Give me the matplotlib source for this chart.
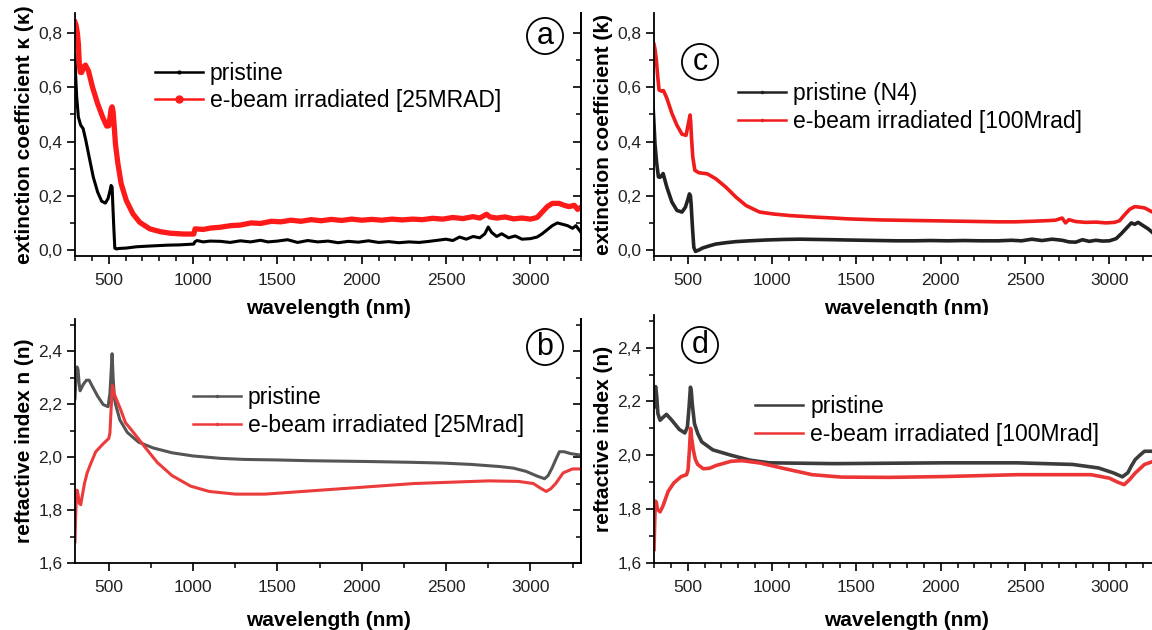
import numpy as np
import matplotlib.pyplot as plt
from matplotlib.ticker import MultipleLocator, FuncFormatter

plt.rcParams['font.family'] = ['Liberation Sans', 'DejaVu Sans']

# (wavelength nm, value)
a_pristine = [(300, 0.72), (304, 0.64), (310, 0.565), (320, 0.49), (334, 0.46), (348, 0.448), (364, 0.405),
              (384, 0.343), (408, 0.27), (434, 0.214), (458, 0.18), (480, 0.173), (496, 0.19), (506, 0.215),
              (514, 0.238), (520, 0.232), (524, 0.17), (530, 0.084), (536, 0.007), (545, 0.004), (564, 0.006),
              (600, 0.007), (664, 0.012), (720, 0.014), (784, 0.016), (850, 0.018), (920, 0.019), (1004, 0.022),
              (1010, 0.03), (1024, 0.035), (1060, 0.03), (1100, 0.033), (1164, 0.032), (1220, 0.028),
              (1280, 0.034), (1340, 0.03), (1400, 0.036), (1444, 0.03), (1500, 0.033), (1560, 0.038),
              (1620, 0.028), (1680, 0.035), (1740, 0.03), (1800, 0.033), (1860, 0.027), (1920, 0.032),
              (1980, 0.029), (2040, 0.034), (2100, 0.028), (2160, 0.031), (2220, 0.027), (2280, 0.03),
              (2340, 0.028), (2400, 0.032), (2450, 0.036), (2500, 0.04), (2540, 0.035), (2580, 0.048),
              (2620, 0.04), (2660, 0.05), (2700, 0.045), (2730, 0.06), (2750, 0.085), (2770, 0.065),
              (2800, 0.05), (2830, 0.06), (2870, 0.045), (2910, 0.052), (2950, 0.04), (3000, 0.042),
              (3040, 0.048), (3070, 0.06), (3100, 0.075), (3130, 0.09), (3160, 0.1), (3190, 0.095),
              (3220, 0.09), (3250, 0.08), (3270, 0.09), (3300, 0.065)]
a_irradiated = [(300, 0.84), (306, 0.83), (314, 0.80), (320, 0.76), (326, 0.68), (332, 0.655), (340, 0.655),
                (350, 0.675), (362, 0.682), (380, 0.66), (404, 0.60), (434, 0.54), (464, 0.49), (488, 0.457),
                (500, 0.458), (508, 0.49), (514, 0.52), (520, 0.528), (526, 0.51), (532, 0.46), (540, 0.39),
                (554, 0.32), (574, 0.244), (604, 0.183), (644, 0.133), (684, 0.102), (744, 0.078), (804, 0.068),
                (864, 0.062), (944, 0.059), (1004, 0.059), (1012, 0.078), (1060, 0.076), (1104, 0.081),
                (1160, 0.084), (1224, 0.09), (1280, 0.092), (1344, 0.10), (1400, 0.098), (1464, 0.106),
                (1520, 0.104), (1580, 0.11), (1640, 0.106), (1700, 0.112), (1760, 0.108), (1820, 0.113),
                (1880, 0.109), (1940, 0.114), (2000, 0.11), (2060, 0.113), (2120, 0.11), (2180, 0.114),
                (2240, 0.111), (2300, 0.114), (2360, 0.112), (2420, 0.117), (2480, 0.114), (2540, 0.12),
                (2600, 0.116), (2660, 0.123), (2700, 0.118), (2740, 0.132), (2760, 0.122), (2800, 0.118),
                (2850, 0.122), (2900, 0.115), (2950, 0.118), (3000, 0.114), (3040, 0.12), (3070, 0.14),
                (3100, 0.16), (3130, 0.172), (3170, 0.172), (3200, 0.165), (3230, 0.16), (3260, 0.165),
                (3280, 0.15), (3300, 0.158)]

c_pristine = [(292, 0.553), (298, 0.49), (306, 0.39), (316, 0.32), (326, 0.27), (334, 0.268), (342, 0.272),
              (354, 0.282), (366, 0.255), (376, 0.232), (406, 0.177), (436, 0.146), (466, 0.14), (486, 0.158),
              (500, 0.185), (510, 0.207), (516, 0.2), (520, 0.17), (528, 0.084), (536, 0.01), (546, -0.005),
              (566, 0.0), (586, 0.007), (626, 0.015), (666, 0.022), (726, 0.027), (786, 0.031), (866, 0.034),
              (966, 0.037), (1066, 0.039), (1166, 0.04), (1266, 0.039), (1366, 0.038), (1446, 0.037),
              (1540, 0.036), (1640, 0.035), (1740, 0.034), (1840, 0.034), (1940, 0.035), (2040, 0.034),
              (2140, 0.035), (2240, 0.034), (2340, 0.034), (2420, 0.036), (2480, 0.034), (2540, 0.04),
              (2600, 0.035), (2660, 0.04), (2720, 0.036), (2760, 0.03), (2800, 0.029), (2840, 0.038),
              (2880, 0.032), (2920, 0.036), (2960, 0.033), (3000, 0.034), (3040, 0.042), (3070, 0.06),
              (3100, 0.08), (3130, 0.1), (3150, 0.095), (3170, 0.102), (3200, 0.09), (3230, 0.078),
              (3260, 0.062), (3300, 0.045)]
c_irradiated = [(292, 0.77), (300, 0.76), (306, 0.74), (314, 0.70), (322, 0.64), (330, 0.59), (344, 0.586),
                (356, 0.588), (376, 0.56), (406, 0.504), (436, 0.46), (466, 0.427), (490, 0.423), (506, 0.473),
                (514, 0.498), (518, 0.47), (522, 0.417), (530, 0.343), (542, 0.294), (566, 0.285), (616, 0.281),
                (666, 0.263), (726, 0.232), (786, 0.195), (846, 0.164), (926, 0.14), (1006, 0.133),
                (1106, 0.127), (1186, 0.124), (1266, 0.121), (1366, 0.118), (1446, 0.115), (1540, 0.113),
                (1640, 0.111), (1740, 0.11), (1840, 0.109), (1940, 0.108), (2040, 0.107), (2140, 0.106),
                (2240, 0.105), (2340, 0.104), (2440, 0.104), (2540, 0.106), (2620, 0.108), (2680, 0.11),
                (2720, 0.118), (2740, 0.1), (2760, 0.112), (2800, 0.105), (2860, 0.102), (2920, 0.103),
                (2980, 0.1), (3030, 0.102), (3060, 0.108), (3090, 0.13), (3120, 0.15), (3150, 0.16),
                (3180, 0.158), (3210, 0.155), (3240, 0.145), (3270, 0.135), (3300, 0.125)]

b_pristine = [(300, 2.22), (306, 2.30), (312, 2.34), (318, 2.33), (324, 2.28), (330, 2.25), (338, 2.26),
              (350, 2.275), (368, 2.29), (384, 2.29), (400, 2.27), (434, 2.23), (467, 2.198), (496, 2.19),
              (507, 2.24), (514, 2.32), (520, 2.39), (526, 2.30), (534, 2.22), (540, 2.20), (566, 2.14),
              (610, 2.093), (677, 2.056), (765, 2.034), (875, 2.016), (1000, 2.004), (1163, 1.995),
              (1300, 1.991), (1494, 1.989), (1700, 1.986), (2046, 1.983), (2300, 1.98), (2488, 1.977),
              (2650, 1.972), (2819, 1.964), (2900, 1.958), (2974, 1.946), (3040, 1.928), (3084, 1.918),
              (3105, 1.93), (3128, 1.958), (3150, 1.99), (3172, 2.02), (3200, 2.02), (3238, 2.013),
              (3300, 2.007)]
b_irradiated = [(300, 1.68), (303, 1.76), (307, 1.83), (312, 1.875), (318, 1.86), (326, 1.825), (334, 1.82),
                (345, 1.86), (356, 1.90), (372, 1.94), (390, 1.97), (423, 2.02), (467, 2.05), (500, 2.07),
                (507, 2.09), (514, 2.18), (522, 2.27), (532, 2.24), (544, 2.22), (570, 2.18), (599, 2.13),
                (650, 2.09), (699, 2.05), (787, 1.98), (875, 1.93), (986, 1.89), (1096, 1.87), (1251, 1.86),
                (1427, 1.86), (1648, 1.87), (1869, 1.88), (2090, 1.89), (2311, 1.90), (2531, 1.905),
                (2752, 1.91), (2929, 1.908), (3017, 1.90), (3061, 1.882), (3094, 1.87), (3120, 1.88),
                (3150, 1.9), (3194, 1.94), (3249, 1.955), (3300, 1.955)]

d_pristine = [(300, 2.18), (304, 2.24), (310, 2.255), (316, 2.22), (323, 2.155), (336, 2.13), (352, 2.14),
              (374, 2.152), (406, 2.13), (450, 2.096), (483, 2.083), (498, 2.105), (508, 2.18), (516, 2.253),
              (521, 2.24), (527, 2.19), (540, 2.117), (560, 2.08), (583, 2.05), (649, 2.02), (758, 2.0),
              (868, 1.982), (984, 1.972), (1365, 1.969), (2019, 1.972), (2455, 1.972), (2782, 1.966),
              (2935, 1.953), (3022, 1.935), (3077, 1.92), (3109, 1.935), (3130, 1.96), (3153, 1.984),
              (3180, 2.0), (3208, 2.015), (3300, 2.015)]
d_irradiated = [(300, 1.65), (304, 1.75), (308, 1.83), (314, 1.825), (320, 1.80), (336, 1.79), (352, 1.81),
                (384, 1.866), (417, 1.897), (461, 1.921), (493, 1.928), (502, 1.946), (510, 2.02), (517, 2.10),
                (524, 2.06), (533, 2.02), (545, 1.985), (559, 1.966), (592, 1.95), (630, 1.952), (668, 1.962),
                (758, 1.978), (823, 1.98), (932, 1.971), (1063, 1.952), (1237, 1.928), (1411, 1.919),
                (1692, 1.918), (2019, 1.921), (2455, 1.928), (2891, 1.928), (3000, 1.915), (3050, 1.9),
                (3088, 1.891), (3120, 1.91), (3153, 1.934), (3208, 1.966), (3258, 1.977), (3300, 1.977)]

W, H = 1152, 630
fig = plt.figure(figsize=(W / 100, H / 100), dpi=100)


def px_axes(left, top, right, bottom):
    return fig.add_axes([left / W, (H - bottom) / H, (right - left) / W, (bottom - top) / H])


comma = FuncFormatter(lambda v, p: ('%.1f' % v).replace('.', ','))


def style(ax, ylim, ymaj, xminor, ylabel, right_spine=True, xlabelpad=9):
    ax.set_xlim(300, 3300)
    ax.set_ylim(*ylim)
    ax.xaxis.set_major_locator(MultipleLocator(500))
    ax.xaxis.set_minor_locator(MultipleLocator(xminor))
    ax.yaxis.set_major_locator(MultipleLocator(ymaj))
    ax.yaxis.set_minor_locator(MultipleLocator(ymaj / 2))
    ax.yaxis.set_major_formatter(comma)
    ax.spines['top'].set_visible(False)
    ax.spines['right'].set_visible(right_spine)
    for s in ax.spines.values():
        s.set_linewidth(1.3)
    ax.tick_params(which='major', direction='out', length=6, width=1.2, labelsize=12.5, pad=3,
                   labelcolor='#222222')
    ax.tick_params(axis='x', which='major', pad=6)
    ax.tick_params(which='minor', direction='out', length=3.5, width=1.1)
    if right_spine:
        sec = ax.secondary_yaxis('right')
        sec.yaxis.set_major_locator(MultipleLocator(ymaj))
        sec.yaxis.set_minor_locator(MultipleLocator(ymaj / 2))
        sec.tick_params(which='major', direction='in', length=6, width=1.2, labelright=False)
        sec.tick_params(which='minor', direction='in', length=3.5, width=1.1)
        sec.spines['right'].set_linewidth(1.3)
    ax.set_xlabel('wavelength (nm)', fontsize=15, fontweight='bold', labelpad=xlabelpad)
    ax.set_ylabel(ylabel, fontsize=15, fontweight='bold', labelpad=3)


def tag(ax, x, y, letter):
    fig.text(x / W, 1 - y / H, letter, fontsize=22, ha='center', va='center',
             bbox=dict(boxstyle='circle,pad=0.1', fc='white', ec='black', lw=1.3))


def draw(ax, data, color, lw, label, marker=None, ms=0):
    xs = [p[0] for p in data]
    ys = [p[1] for p in data]
    ax.plot(xs, ys, color=color, lw=lw, solid_joinstyle='round')
    ax.plot([], [], color=color, lw=1.8, marker=marker, ms=ms, label=label)


def legend(ax, x, y):
    ax.legend(loc='upper left', bbox_to_anchor=(x, y), frameon=False, fontsize=16.5,
              handlelength=2.1, handletextpad=0.3, labelspacing=0.2, borderpad=0, borderaxespad=0)


# panel a
ax_a = px_axes(75, 13, 581, 256)
draw(ax_a, a_pristine, 'black', 2.2, 'pristine', marker='.', ms=4)
draw(ax_a, a_irradiated, '#ff1a1a', 3.8, 'e-beam irradiated [25MRAD]', marker='o', ms=5)
style(ax_a, (-0.022, 0.874), 0.2, 100, 'extinction coefficient \u03ba (\u03ba)', xlabelpad=8)
legend(ax_a, 0.158, 0.80)
tag(ax_a, 545, 36, 'a')

# panel c
ax_c = px_axes(654, 13, 1160, 256)
draw(ax_c, c_pristine, '#222222', 2.6, 'pristine (N4)', marker='.', ms=3)
draw(ax_c, c_irradiated, '#f01c1c', 2.6, 'e-beam irradiated [100Mrad]', marker='.', ms=3)
style(ax_c, (-0.022, 0.874), 0.2, 100, 'extinction coefficient (k)', right_spine=False, xlabelpad=8)
legend(ax_c, 0.166, 0.716)
tag(ax_c, 700, 62, 'c')

# panel b
ax_b = px_axes(75, 319, 581, 563)
draw(ax_b, b_pristine, '#555555', 2.2, 'pristine', marker='.', ms=3)
draw(ax_b, b_irradiated, '#ec3b3b', 2.2, 'e-beam irradiated [25Mrad]', marker='.', ms=3)
style(ax_b, (1.6, 2.521), 0.2, 250, 'reftactive index n (n)', xlabelpad=12)
legend(ax_b, 0.233, 0.725)
tag(ax_b, 545, 347, 'b')

# panel d
ax_d = px_axes(654, 315, 1160, 563)
draw(ax_d, d_pristine, '#3c3c3c', 2.6, 'pristine')
draw(ax_d, d_irradiated, '#ec3535', 2.6, 'e-beam irradiated [100Mrad]')
style(ax_d, (1.6, 2.521), 0.2, 100, 'reftactive index (n)', right_spine=False, xlabelpad=12)
legend(ax_d, 0.2, 0.677)
tag(ax_d, 700, 345, 'd')

fig.savefig('out.png', dpi=100)
